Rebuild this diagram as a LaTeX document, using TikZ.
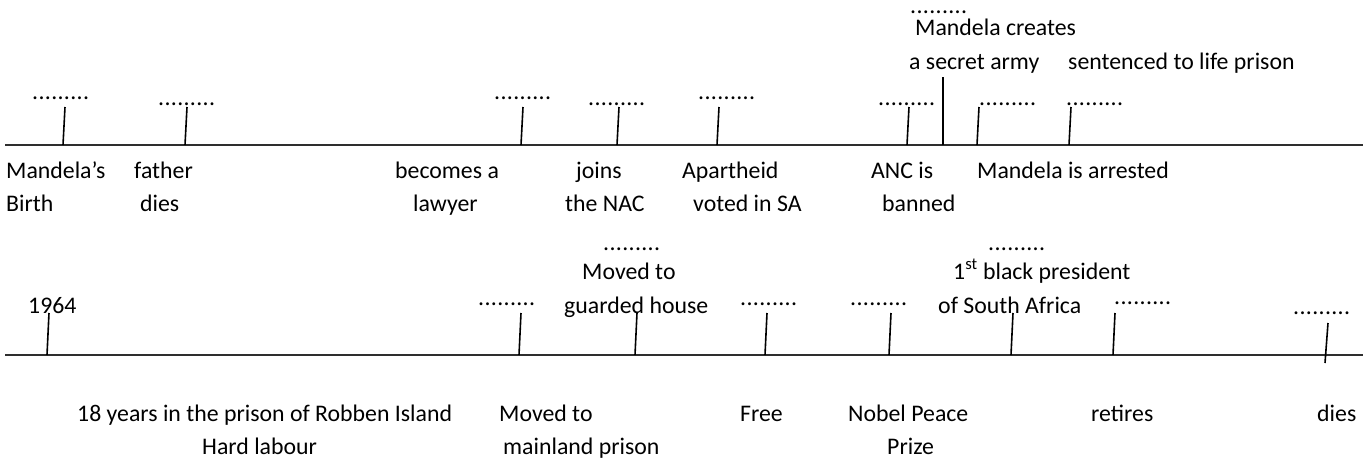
\documentclass[tikz,border=0pt]{standalone}
\usepackage{fontspec}
\setmainfont{Carlito}
\newcommand\dotrow{\hbox to 57pt{.\hfil.\hfil.\hfil.\hfil.\hfil.\hfil.\hfil.\hfil.}}
\tikzset{
  lbl/.style={anchor=base west, inner sep=0pt, font=\fontsize{23.8}{33}\selectfont},
  dts/.style={anchor=base west, inner sep=0pt, font=\fontsize{23.8}{33}\selectfont},
  tickline/.style={line width=1.6pt, black},
  axisline/.style={line width=1.8pt, black!82},
}
\begin{document}
\begin{tikzpicture}[x=1pt,y=-1pt]
\useasboundingbox (0,0) rectangle (1363,459);
% axes
\coordinate (a1) at (5,145); \coordinate (a2) at (1363,145);
\coordinate (b1) at (5,355); \coordinate (b2) at (1363,355);
\draw[axisline] (a1) -- (a2);
\draw[axisline] (b1) -- (b2);
% top ticks
\foreach \n/\xb/\xt/\yt in {t1/63/65/107, t2/185/187/107, t3/521/523/107, t4/617/619/107, t5/717/719/107, t6/907/909/107, t7/943/943/77, t8/977/979/107, t9/1069/1071/107}{
  \coordinate (\n b) at (\xb,145); \coordinate (\n t) at (\xt,\yt);
  \draw[tickline] (\n b) -- (\n t);
}
% bottom ticks
\foreach \n/\xb/\yb/\xt/\yt in {u1/47/355/49/313, u2/519/355/521/313, u3/635/355/637/313, u4/765/355/767/313, u5/889/355/891/313, u6/1011/355/1013/313, u7/1113/355/1115/313, u8/1325/363/1328/323}{
  \coordinate (\n b) at (\xb,\yb); \coordinate (\n t) at (\xt,\yt);
  \draw[tickline] (\n b) -- (\n t);
}
% dots
\foreach \n/\x/\y in {d1/32/99, d2/158/105, d3/494/99, d4/588/105, d5/698/99, d6/878/105, d7/910/13, d8/979/105, d9/1066/105, e1/478/305, e2/603/250, e3/740/305, e4/850/305, e5/988/250, e6/1114/304, e7/1293/314}{
  \node[dts] (\n) at (\x,\y) {\dotrow};
}
% top labels
\node[lbl] (l1a) at (6,178) {Mandela’s};
\node[lbl] (l1b) at (6,211) {Birth};
\node[lbl] (l2a) at (134,178) {father};
\node[lbl] (l2b) at (140,211) {dies};
\node[lbl] (l3a) at (395,178) {becomes a};
\node[lbl] (l3b) at (413,211) {lawyer};
\node[lbl] (l4a) at (576,178) {joins};
\node[lbl] (l4b) at (565,211) {the NAC};
\node[lbl] (l5a) at (682,178) {Apartheid};
\node[lbl] (l5b) at (693,211) {voted in SA};
\node[lbl] (l6a) at (871,178) {ANC is};
\node[lbl] (l6b) at (882,211) {banned};
\node[lbl] (l7a) at (915,35) {Mandela creates};
\node[lbl] (l7b) at (909,69) {a secret army};
\node[lbl] (l8) at (977,178) {Mandela is arrested};
\node[lbl] (l9) at (1068,69) {sentenced to life prison};
% bottom labels
\node[lbl] (m0) at (28,313) {1964};
\node[lbl] (m1a) at (77,421) {18 years in the prison of Robben Island};
\node[lbl] (m1b) at (202,454) {Hard labour};
\node[lbl] (m2a) at (499,421) {Moved to};
\node[lbl] (m2b) at (503,454) {mainland prison};
\node[lbl] (m3a) at (582,279) {Moved to};
\node[lbl] (m3b) at (564,313) {guarded house};
\node[lbl] (m4) at (740,421) {Free};
\node[lbl] (m5a) at (848,421) {Nobel Peace};
\node[lbl] (m5b) at (887,454) {Prize};
\node[lbl] (m6a) at (953,279) {1\textsuperscript{st} black president};
\node[lbl] (m6b) at (938,313) {of South Africa};
\node[lbl] (m7) at (1091,421) {retires};
\node[lbl] (m8) at (1317,421) {dies};
\end{tikzpicture}
\end{document}
